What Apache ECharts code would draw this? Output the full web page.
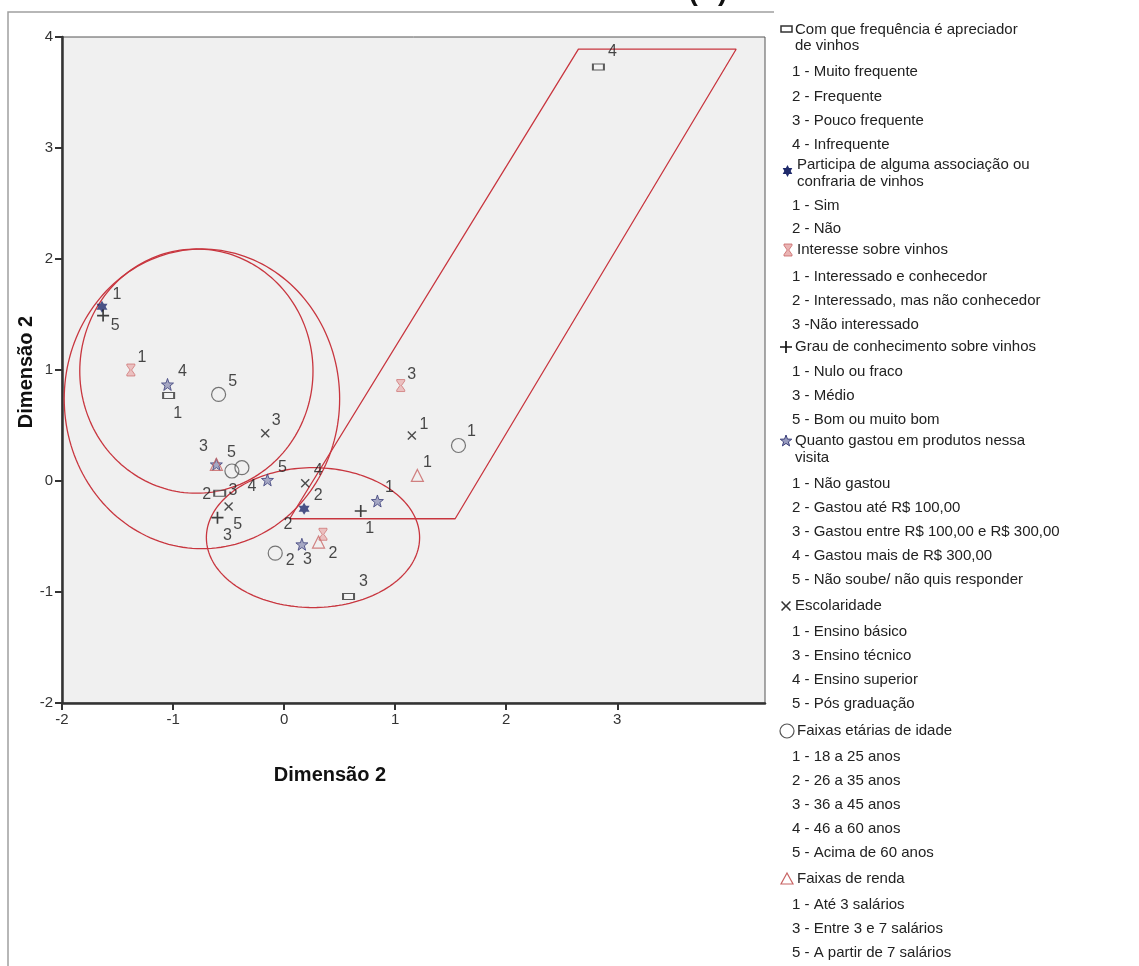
<!DOCTYPE html>
<html lang="pt">
<head>
<meta charset="UTF-8">
<title>Mapa de correspondência</title>
<script src="https://cdn.jsdelivr.net/npm/echarts@6/dist/echarts.min.js"></script>
<style>
  html, body { margin: 0; padding: 0; background: #fff; }
  #chart { width: 1139px; height: 966px; }
</style>
</head>
<body>
<div id="chart"></div>
<script>
// ---- dados (coordenadas nas dimensões) ----
var freqCodes = ['1', '2', '3', '4'];
var freqX = [-1.04, -0.58, 0.58, 2.83];
var freqY = [0.77, -0.11, -1.04, 3.73];

var partCodes = ['1', '2'];
var partX = [-1.64, 0.18];
var partY = [1.57, -0.25];

var intCodes = ['1', '2', '3'];
var intX = [-1.38, 0.35, 1.05];
var intY = [1.00, -0.48, 0.86];

var grauCodes = ['1', '3', '5'];
var grauX = [0.69, -0.60, -1.63];
var grauY = [-0.27, -0.33, 1.49];

var gastoCodes = ['1', '2', '3', '4', '5'];
var gastoX = [0.84, 0.16, -0.61, -1.05, -0.15];
var gastoY = [-0.18, -0.57, 0.15, 0.87, 0.01];

var escCodes = ['1', '3', '4', '5'];
var escX = [1.15, -0.17, 0.19, -0.50];
var escY = [0.41, 0.43, -0.02, -0.23];

var idadeCodes = ['1', '2', '3', '4', '5'];
var idadeX = [1.57, -0.08, -0.47, -0.38, -0.59];
var idadeY = [0.32, -0.65, 0.09, 0.12, 0.78];

var rendaCodes = ['1', '3', '5'];
var rendaX = [1.20, 0.31, -0.61];
var rendaY = [0.05, -0.55, 0.15];

// regiões marcadas a vermelho
var paraX = [0.05, 1.54, 4.07, 2.65, 0.05];
var paraY = [-0.34, -0.34, 3.89, 3.89, -0.34];
var ellCx = [-0.79, -0.74, 0.26];
var ellCy = [0.99, 0.74, -0.51];
var ellRx = [1.05, 1.24, 0.96];
var ellRy = [1.10, 1.35, 0.63];

var xTicks = [-2, -1, 0, 1, 2, 3];

// deslocamento dos rótulos (px)
var offs = {
  freq: [[9, 18], [-13, 1], [15, -15], [14, -15]],
  part: [[15, -12], [14, -13]],
  int: [[11, -12], [10, 19], [11, -11]],
  grau: [[9, 18], [10, 18], [12, 10]],
  gasto: [[12, -13], [-14, -20], [-13, -18], [15, -13], [15, -12]],
  esc: [[12, -11], [11, -13], [13, -13], [9, 18]],
  idade: [[13, -14], [15, 7], [1, 20], [10, 19], [14, -13]],
  renda: [[10, -13], [-11, 18], [15, -12]]
};

var RED = '#c8363f';
var FF = 'Arial, "Liberation Sans"';

// formas dos símbolos (caixa 10x10)
var hexPts = [[5,0],[6.45,2.5],[9.35,2.5],[7.9,5],[9.35,7.5],[6.45,7.5],[5,10],[3.55,7.5],[0.65,7.5],[2.1,5],[0.65,2.5],[3.55,2.5]];
var starPts = [[5,0],[6.2,3.4],[9.8,3.5],[7,5.7],[8,9.1],[5,7],[2,9.1],[3,5.7],[0.2,3.5],[3.8,3.4]];
var hourPts = [[0,0],[10,0],[10,1.2],[6,5],[10,8.8],[10,10],[0,10],[0,8.8],[4,5],[0,1.2]];
var plusPts = [[4.3,0],[5.7,0],[5.7,4.3],[10,4.3],[10,5.7],[5.7,5.7],[5.7,10],[4.3,10],[4.3,5.7],[0,5.7],[0,4.3],[4.3,4.3]];
var crossPts = [[1.1,0],[5,3.9],[8.9,0],[10,1.1],[6.1,5],[10,8.9],[8.9,10],[5,6.1],[1.1,10],[0,8.9],[3.9,5],[0,1.1]];

function toPath(p) {
  return 'path://M' + p.map(function (q) { return q[0] + ',' + q[1]; }).join(' L') + ' Z';
}
function legendPoly(p, x, y, w, h, style) {
  return {
    type: 'polygon',
    shape: { points: p.map(function (q) { return [x + q[0] * w / 10, y + q[1] * h / 10]; }) },
    style: style
  };
}

function pts(xs, ys, codes, off) {
  return xs.map(function (x, i) {
    return { value: [x, ys[i]], label: { formatter: codes[i], offset: off[i] } };
  });
}

function scat(name, xs, ys, codes, off, symbol, size, style) {
  return {
    name: name,
    type: 'scatter',
    symbol: symbol,
    symbolSize: size,
    itemStyle: style,
    z: 5,
    label: { show: true, position: 'inside', fontFamily: FF, fontSize: 16, color: '#1a1a1a' },
    data: pts(xs, ys, codes, off)
  };
}

function ellipseSeries() {
  return {
    type: 'custom',
    silent: true,
    z: 3,
    data: ellCx.map(function (c, i) { return [c, ellCy[i], ellRx[i], ellRy[i]]; }),
    renderItem: function (params, api) {
      var c = api.coord([api.value(0), api.value(1)]);
      var s = api.size([api.value(2), api.value(3)]);
      var p = [];
      for (var k = 0; k < 180; k++) {
        var a = k / 180 * Math.PI * 2;
        p.push([c[0] + s[0] * Math.cos(a), c[1] + s[1] * Math.sin(a)]);
      }
      return {
        type: 'polygon',
        shape: { points: p },
        style: { fill: 'none', stroke: RED, lineWidth: 1.3 }
      };
    }
  };
}

// legenda (texto à direita)
var FONT = '15px ' + FF;
var legendLines = [
  ['Com que frequência é apreciador', 795, 30], ['de vinhos', 795, 46],
  ['1 - Muito frequente', 792, 72], ['2 - Frequente', 792, 97],
  ['3 - Pouco frequente', 792, 121], ['4 - Infrequente', 792, 145],
  ['Participa de alguma associação ou', 797, 165], ['confraria de vinhos', 797, 182],
  ['1 - Sim', 792, 206], ['2 - Não', 792, 229],
  ['Interesse sobre vinhos', 797, 250],
  ['1 - Interessado e conhecedor', 792, 277], ['2 - Interessado, mas não conhecedor', 792, 301],
  ['3 -Não interessado', 792, 325],
  ['Grau de conhecimento sobre vinhos', 795, 347],
  ['1 - Nulo ou fraco', 792, 372], ['3 - Médio', 792, 396], ['5 - Bom ou muito bom', 792, 420],
  ['Quanto gastou em produtos nessa', 795, 441], ['visita', 795, 458],
  ['1 - Não gastou', 792, 484], ['2 - Gastou até R$ 100,00', 792, 508],
  ['3 - Gastou entre R$ 100,00 e R$ 300,00', 792, 532], ['4 - Gastou mais de R$ 300,00', 792, 556],
  ['5 - Não soube/ não quis responder', 792, 580],
  ['Escolaridade', 795, 606],
  ['1 - Ensino básico', 792, 632], ['3 - Ensino técnico', 792, 656],
  ['4 - Ensino superior', 792, 680], ['5 - Pós graduação', 792, 704],
  ['Faixas etárias de idade', 797, 731],
  ['1 - 18 a 25 anos', 792, 757], ['2 - 26 a 35 anos', 792, 781], ['3 - 36 a 45 anos', 792, 805],
  ['4 - 46 a 60 anos', 792, 829], ['5 - Acima de 60 anos', 792, 853],
  ['Faixas de renda', 797, 879],
  ['1 - Até 3 salários', 792, 905], ['3 - Entre 3 e 7 salários', 792, 929],
  ['5 - A partir de 7 salários', 792, 953]
];

var graphics = [
  { type: 'polyline', z: -1, shape: { points: [[8, 970], [8, 12], [774, 12]] }, style: { fill: 'none', stroke: '#a0a0a0', lineWidth: 1.5 } },
  { type: 'text', x: 708, y: -22, style: { text: '(A)', font: 'bold 28px ' + FF, fill: '#111', align: 'center' } },
  { type: 'text', x: 330, y: 775, style: { text: 'Dimensão 2', font: 'bold 20px ' + FF, fill: '#111', align: 'center', verticalAlign: 'middle' } },
  { type: 'text', x: 26, y: 372, rotation: Math.PI / 2, style: { text: 'Dimensão 2', font: 'bold 20px ' + FF, fill: '#111', align: 'center', verticalAlign: 'middle' } },
  // símbolos da legenda
  { type: 'rect', shape: { x: 781, y: 26, width: 11, height: 6 }, style: { fill: '#fff', stroke: '#333', lineWidth: 1.5 } },
  legendPoly(hexPts, 782, 165, 11, 12, { fill: '#1f2a6b' }),
  legendPoly(hourPts, 784, 244, 8, 12, { fill: '#eab4b4', stroke: '#c86464', lineWidth: 0.8 }),
  legendPoly(plusPts, 780, 341, 12, 12, { fill: '#111' }),
  legendPoly(starPts, 780, 435, 12, 12, { fill: 'rgba(70,74,140,0.55)', stroke: '#3b3f7a', lineWidth: 1 }),
  legendPoly(crossPts, 781, 601, 10, 10, { fill: '#333' }),
  { type: 'circle', shape: { cx: 787, cy: 731, r: 7 }, style: { fill: 'none', stroke: '#555', lineWidth: 1.2 } },
  { type: 'polygon', shape: { points: [[787, 873], [793, 884], [781, 884]] }, style: { fill: 'none', stroke: '#c86464', lineWidth: 1.2 } }
];
legendLines.forEach(function (l) {
  graphics.push({ type: 'text', x: l[1], y: l[2], style: { text: l[0], font: FONT, fill: '#222', verticalAlign: 'middle' } });
});

var chart = echarts.init(document.getElementById('chart'));
chart.setOption({
  animation: false,
  backgroundColor: '#fff',
  grid: {
    left: 62, top: 37, right: 374, bottom: 263,
    show: true, backgroundColor: '#f0f0f0', borderColor: '#555', borderWidth: 1
  },
  xAxis: {
    type: 'value', min: -2, max: 4.33, interval: 1,
    axisLine: { show: true, onZero: false, lineStyle: { color: '#333', width: 2.5 } },
    axisTick: { show: true, length: 7, customValues: xTicks, lineStyle: { color: '#333', width: 2 } },
    axisLabel: { customValues: xTicks, fontSize: 15, color: '#333', margin: 9, fontFamily: FF },
    splitLine: { show: false }
  },
  yAxis: {
    type: 'value', min: -2, max: 4, interval: 1,
    axisLine: { show: true, onZero: false, lineStyle: { color: '#333', width: 2.5 } },
    axisTick: { show: true, length: 7, lineStyle: { color: '#333', width: 2 } },
    axisLabel: { fontSize: 15, color: '#333', margin: 9, fontFamily: FF },
    splitLine: { show: false }
  },
  graphic: graphics,
  series: [
    ellipseSeries(),
    {
      type: 'line', silent: true, symbol: 'none', z: 3,
      lineStyle: { color: RED, width: 1.3 },
      data: paraX.map(function (x, i) { return [x, paraY[i]]; })
    },
    scat('Com que frequência', freqX, freqY, freqCodes, offs.freq, 'rect', [11, 6],
      { color: 'rgba(255,255,255,0.3)', borderColor: '#333', borderWidth: 1.5 }),
    scat('Participa', partX, partY, partCodes, offs.part, toPath(hexPts), [11, 12], { color: '#1f2a6b' }),
    scat('Interesse', intX, intY, intCodes, offs.int, toPath(hourPts), [8, 12],
      { color: '#eab4b4', borderColor: '#c86464', borderWidth: 0.8 }),
    scat('Grau', grauX, grauY, grauCodes, offs.grau, toPath(plusPts), [12, 12], { color: '#111' }),
    scat('Gastou', gastoX, gastoY, gastoCodes, offs.gasto, toPath(starPts), [12, 12],
      { color: 'rgba(70,74,140,0.55)', borderColor: '#3b3f7a', borderWidth: 1 }),
    scat('Escolaridade', escX, escY, escCodes, offs.esc, toPath(crossPts), [9, 9], { color: '#222' }),
    scat('Idade', idadeX, idadeY, idadeCodes, offs.idade, 'circle', 14,
      { color: 'rgba(0,0,0,0)', borderColor: '#555', borderWidth: 1.2 }),
    scat('Renda', rendaX, rendaY, rendaCodes, offs.renda, 'triangle', 12,
      { color: 'rgba(0,0,0,0)', borderColor: '#c86464', borderWidth: 1.2 })
  ]
});
</script>
</body>
</html>
